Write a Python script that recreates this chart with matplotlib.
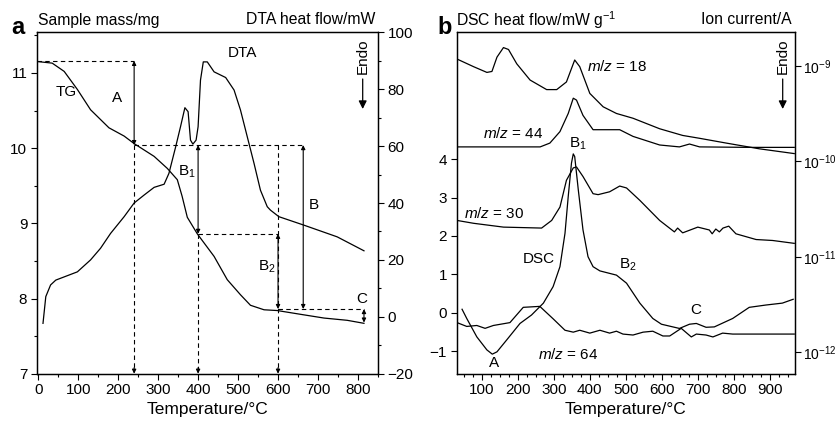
import numpy as np
import matplotlib
matplotlib.use('Agg')
import matplotlib.pyplot as plt
from matplotlib.ticker import MultipleLocator, NullLocator, FixedLocator

plt.rcParams['font.family'] = ['Liberation Sans', 'DejaVu Sans']
plt.rcParams['mathtext.fontset'] = 'custom'
plt.rcParams['mathtext.rm'] = 'Liberation Sans'
plt.rcParams['mathtext.it'] = 'Liberation Sans:italic'
plt.rcParams['axes.unicode_minus'] = True

# ---- panel a : TG (mg) and DTA (mW) ----
tg_t = [0, 35, 65, 98, 131, 177, 215, 240, 290, 323, 348, 360, 373, 398, 440, 473,
        506, 531, 565, 598, 656, 715, 773, 815]
tg_m = [11.15, 11.13, 11.02, 10.78, 10.51, 10.27, 10.16, 10.06, 9.89, 9.73, 9.58, 9.36,
        9.08, 8.86, 8.56, 8.25, 8.05, 7.91, 7.85, 7.84, 7.79, 7.74, 7.71, 7.67]

dta_t = [12, 19, 31, 44, 98, 131, 156, 181, 215, 240, 265, 290, 315, 327, 344, 356,
         367, 375, 381, 387, 395, 400, 406, 413, 423, 440, 469, 490, 506, 523, 540,
         556, 573, 581, 602, 665, 748, 815]
dta_q = [-2.3, 7.1, 11.2, 12.9, 15.8, 20.0, 24.1, 29.3, 35.2, 40.0, 42.8, 45.5, 46.6,
         50.4, 59.8, 66.8, 73.5, 72.1, 62.1, 60.7, 62.1, 66.8, 83.2, 89.6, 89.6, 86.1,
         84.1, 79.7, 72.7, 63.3, 53.9, 44.5, 38.7, 37.5, 35.2, 32.2, 28.1, 23.2]

# step temperatures and masses used for the A/B/C construction
t_a, t_b1, t_b2, t_b, t_c = 240, 400, 600, 663, 815
m_0, m_a, m_b1, m_b, m_c = 11.16, 10.04, 8.86, 7.86, 7.68

# ---- panel b : DSC (mW/g) and ion currents (A) ----
dsc_t = [45, 58, 86, 114, 129, 142, 169, 206, 238, 271, 298, 317, 331, 340, 349, 354,
         358, 368, 381, 395, 409, 428, 474, 502, 539, 575, 599, 649, 677, 696, 723,
         746, 797, 843, 889, 935, 965]
dsc_q = [0.09, -0.15, -0.63, -0.97, -1.08, -1.02, -0.71, -0.28, -0.06, 0.25, 0.68,
         1.2, 2.07, 3.03, 3.9, 4.14, 4.07, 3.2, 2.16, 1.46, 1.2, 1.09, 0.98, 0.77,
         0.25, -0.15, -0.3, -0.41, -0.3, -0.28, -0.38, -0.37, -0.15, 0.14, 0.2, 0.25,
         0.35]

ms18_t = [31, 77, 114, 128, 142, 160, 174, 197, 234, 280, 308, 335, 358, 372, 400,
          437, 474, 520, 594, 658, 705, 779, 871, 968]
ms18_log = [-8.93, -9.01, -9.07, -9.06, -8.91, -8.81, -8.83, -8.98, -9.15, -9.25,
            -9.25, -9.17, -8.94, -9.01, -9.29, -9.43, -9.50, -9.55, -9.66, -9.73,
            -9.76, -9.81, -9.87, -9.92]

ms44_t = [31, 262, 289, 317, 340, 354, 363, 381, 409, 483, 520, 594, 649, 677, 705,
          843, 968]
ms44_log = [-9.85, -9.85, -9.81, -9.69, -9.50, -9.34, -9.36, -9.52, -9.67, -9.67,
            -9.74, -9.83, -9.85, -9.82, -9.85, -9.855, -9.855]

ms30_t = [31, 77, 160, 266, 294, 317, 335, 354, 363, 381, 409, 423, 455, 483, 502,
          539, 594, 635, 644, 658, 700, 732, 740, 750, 760, 770, 786, 806, 862, 908, 968]
ms30_log = [-10.62, -10.65, -10.69, -10.70, -10.62, -10.48, -10.20, -10.07, -10.06,
            -10.16, -10.34, -10.35, -10.32, -10.26, -10.28, -10.41, -10.62, -10.74,
            -10.70, -10.75, -10.69, -10.72, -10.76, -10.71, -10.74, -10.70, -10.68,
            -10.76, -10.82, -10.83, -10.86]

ms64_t = [31, 58, 86, 109, 132, 178, 215, 261, 298, 331, 354, 372, 400, 428, 455, 474,
          492, 520, 548, 575, 603, 622, 654, 682, 696, 723, 742, 769, 797, 968]
ms64_log = [-11.69, -11.73, -11.72, -11.75, -11.72, -11.69, -11.53, -11.52, -11.65,
            -11.77, -11.79, -11.77, -11.80, -11.77, -11.80, -11.78, -11.81, -11.82,
            -11.79, -11.78, -11.83, -11.83, -11.75, -11.84, -11.81, -11.82, -11.84,
            -11.80, -11.81, -11.81]

LW = 0.9
FS_TICK = 11
FS_LAB = 11
FS_XLAB = 12.5

fig = plt.figure(figsize=(8.39, 4.25), dpi=100)
axa = fig.add_axes([0.0441, 0.1207, 0.4064, 0.8033])
axa2 = axa.twinx()
axb = fig.add_axes([0.5443, 0.1207, 0.4032, 0.8033])
axb2 = axb.twinx()


def arrow(ax, x, y0, y1, style, ls='-'):
    ax.annotate('', xy=(x, y1), xytext=(x, y0),
                arrowprops=dict(arrowstyle=style, color='k', lw=0.8, ls=ls,
                                shrinkA=0, shrinkB=0, mutation_scale=6))


def dashed_down(ax, x, ytop, ybot):
    ax.plot([x, x], [ytop, ybot + 0.06], ls=(0, (4, 3)), color='k', lw=0.8)
    arrow(ax, x, ybot + 0.08, ybot, '-|>')


def hdash(ax, x0, x1, y):
    ax.plot([x0, x1], [y, y], ls=(0, (4, 3)), color='k', lw=0.8)


# ---------------- panel a ----------------
axa.plot(tg_t, tg_m, color='k', lw=LW)
axa2.plot(dta_t, dta_q, color='k', lw=LW)

axa.set_xlim(-3, 850)
axa.set_ylim(7, 11.54)
axa2.set_ylim(-20, 100)

hdash(axa, -3, t_a, m_0)
arrow(axa, t_a, m_0, m_a, '<|-|>')
hdash(axa, t_a, t_b, m_a)
dashed_down(axa, t_a, m_a, 7)
arrow(axa, t_b1, m_a, m_b1, '<|-|>')
dashed_down(axa, t_b1, m_b1, 7)
hdash(axa, t_b1, t_b2, m_b1)
dashed_down(axa, t_b2, m_a, 7)
arrow(axa, t_b2, m_b1, m_b, '<|-|>')
arrow(axa, t_b, m_a, m_b, '<|-|>')
hdash(axa, t_b2, t_c, m_b)
arrow(axa, t_c, m_b, m_c, '<|-|>')

axa.text(69, 10.75, 'TG', fontsize=FS_LAB, ha='center', va='center')
axa.text(198, 10.67, 'A', fontsize=FS_LAB, ha='center', va='center')
axa.text(373, 9.69, 'B$_1$', fontsize=FS_LAB, ha='center', va='center')
axa.text(573, 8.42, 'B$_2$', fontsize=FS_LAB, ha='center', va='center')
axa.text(690, 9.25, 'B', fontsize=FS_LAB, ha='center', va='center')
axa.text(810, 7.99, 'C', fontsize=FS_LAB, ha='center', va='center')
axa.text(510, 11.27, 'DTA', fontsize=FS_LAB, ha='center', va='center')

axa.set_xlabel('Temperature/°C', fontsize=FS_XLAB, labelpad=3)
axa.xaxis.set_major_locator(MultipleLocator(100))
axa.xaxis.set_minor_locator(MultipleLocator(50))
axa.yaxis.set_major_locator(MultipleLocator(1))
axa.yaxis.set_minor_locator(MultipleLocator(0.5))
axa2.yaxis.set_major_locator(MultipleLocator(20))
axa2.yaxis.set_minor_locator(MultipleLocator(10))

# ---------------- panel b ----------------
axb.plot(dsc_t, dsc_q, color='k', lw=LW)
for tt, vv in [(ms18_t, ms18_log), (ms44_t, ms44_log), (ms30_t, ms30_log), (ms64_t, ms64_log)]:
    axb2.plot(tt, 10 ** np.array(vv), color='k', lw=LW)

axb.set_xlim(30, 970)
axb.set_ylim(-1.59, 7.31)
axb2.set_yscale('log')
axb2.set_ylim(10 ** -12.225, 10 ** -8.65)

axb.yaxis.set_major_locator(FixedLocator([-1, 0, 1, 2, 3, 4]))
axb.yaxis.set_minor_locator(NullLocator())
axb.xaxis.set_major_locator(FixedLocator(range(100, 1000, 100)))
axb.xaxis.set_minor_locator(MultipleLocator(25))
axb2.yaxis.set_major_locator(FixedLocator([1e-12, 1e-11, 1e-10, 1e-9]))
axb2.yaxis.set_minor_locator(NullLocator())
axb2.set_yticklabels(['10$^{-12}$', '10$^{-11}$', '10$^{-10}$', '10$^{-9}$'])

axb2.text(391, 10 ** -9.01, '$m/z$ = 18', fontsize=FS_LAB, ha='left', va='center')
axb2.text(104, 10 ** -9.71, '$m/z$ = 44', fontsize=FS_LAB, ha='left', va='center')
axb.text(49, 2.59, '$m/z$ = 30', fontsize=FS_LAB, ha='left', va='center')
axb.text(257, -1.08, '$m/z$ = 64', fontsize=FS_LAB, ha='left', va='center')
axb.text(366, 4.4, 'B$_1$', fontsize=FS_LAB, ha='center', va='center')
axb.text(259, 1.39, 'DSC', fontsize=FS_LAB, ha='center', va='center')
axb.text(506, 1.24, 'B$_2$', fontsize=FS_LAB, ha='center', va='center')
axb.text(693, 0.07, 'C', fontsize=FS_LAB, ha='center', va='center')
axb.text(134, -1.32, 'A', fontsize=FS_LAB, ha='center', va='center')

axb.set_xlabel('Temperature/°C', fontsize=FS_XLAB, labelpad=3)

# ---------------- common styling ----------------
for ax in (axa, axa2, axb, axb2):
    ax.tick_params(which='both', direction='out', labelsize=FS_TICK, width=0.8, pad=3)
    ax.tick_params(which='major', length=4)
    ax.tick_params(which='minor', length=2.5)
    for s in ax.spines.values():
        s.set_linewidth(0.9)
axb2.tick_params(labelsize=10, pad=2)

# Endo markers (figure pixel positions from the reference)
for xpix in (362.7, 782.7):
    fig.text(xpix / 839, 1 - 56 / 425, 'Endo', rotation=90, fontsize=FS_LAB,
             ha='center', va='center')
    fig.add_artist(matplotlib.patches.FancyArrowPatch(
        (xpix / 839, 1 - 79 / 425), (xpix / 839, 1 - 109 / 425),
        transform=fig.transFigure, arrowstyle='-|>', mutation_scale=12,
        color='k', lw=0.9, shrinkA=0, shrinkB=0))

# header texts
fig.text(11 / 839, 1 - 27 / 425, 'a', fontsize=17, fontweight='bold', ha='left', va='center')
fig.text(38 / 839, 1 - 20 / 425, 'Sample mass/mg', fontsize=11.3, ha='left', va='center')
fig.text(375 / 839, 1 - 20 / 425, 'DTA heat flow/mW', fontsize=11.3, ha='right', va='center')
fig.text(437 / 839, 1 - 27 / 425, 'b', fontsize=17, fontweight='bold', ha='left', va='center')
fig.text(456 / 839, 1 - 20 / 425, 'DSC heat flow/mW g$^{-1}$', fontsize=11.3, ha='left', va='center')
fig.text(792 / 839, 1 - 20 / 425, 'Ion current/A', fontsize=11.3, ha='right', va='center')

fig.savefig('out.png', dpi=100)
